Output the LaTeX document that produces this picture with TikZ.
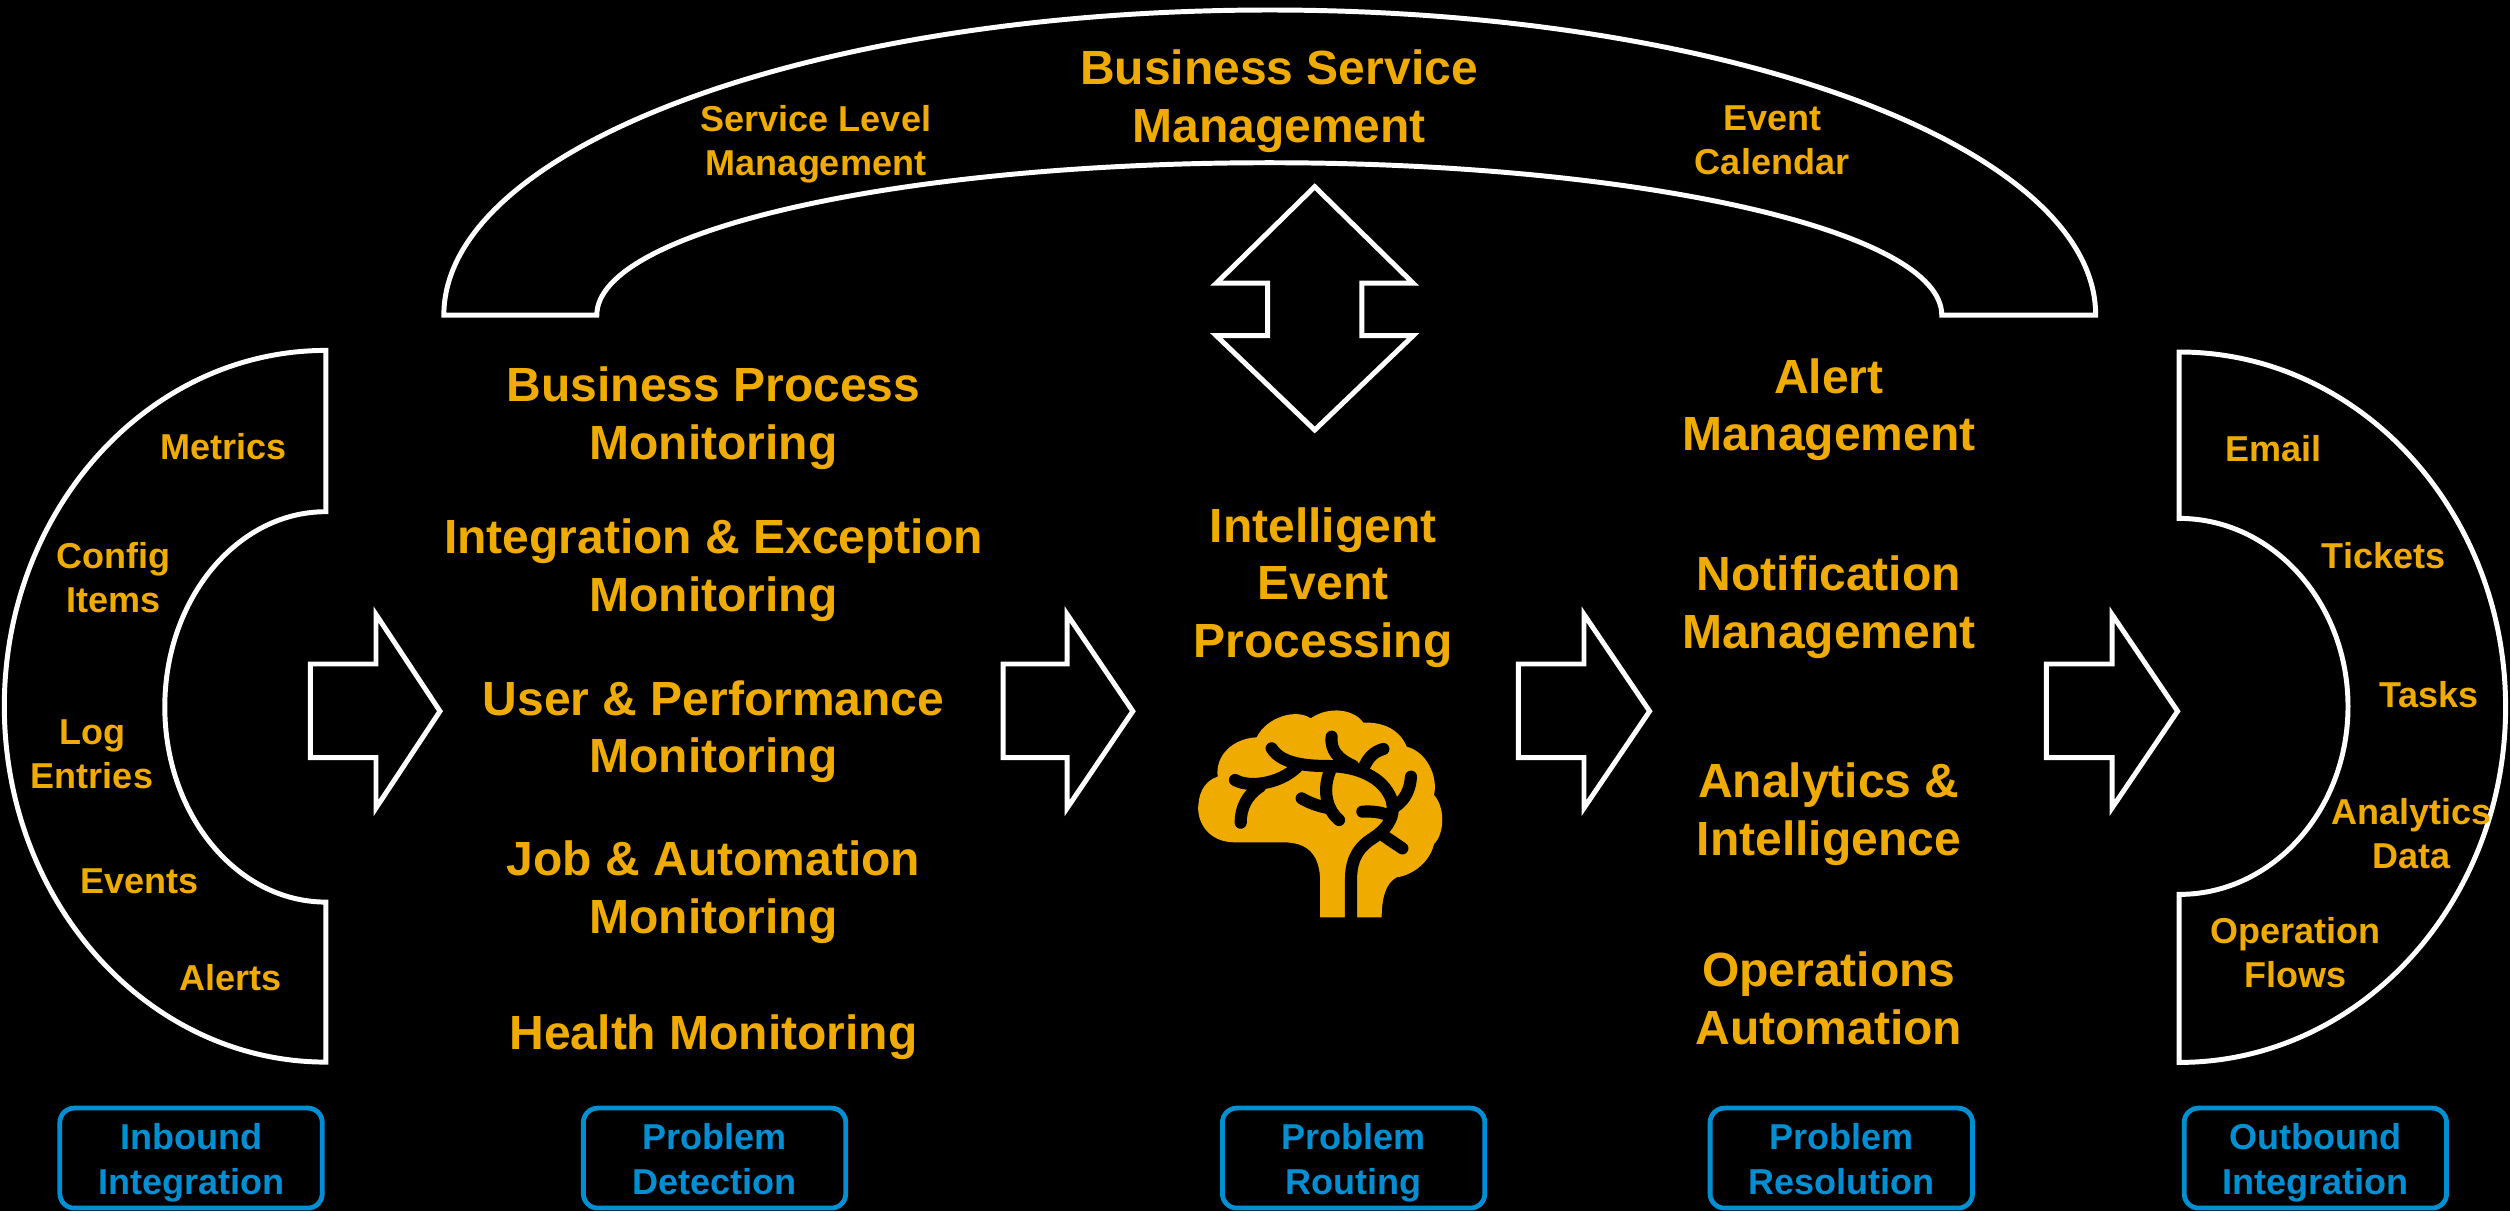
\documentclass[tikz,border=0pt]{standalone}
\usepackage{fontspec}
\setmainfont{Liberation Sans}
\definecolor{gold}{RGB}{240,171,0}
\definecolor{sapblue}{RGB}{0,143,211}
\begin{document}
\begin{tikzpicture}[x=1pt,y=1pt,
  shapeline/.style={draw=white,line width=3.1pt,line join=miter},
  big/.style={text=gold,font=\bfseries\fontsize{30}{36}\selectfont,align=center,inner sep=0pt,
    execute at begin node=\strut,execute at end node=\strut},
  small/.style={text=gold,font=\bfseries\fontsize{22.5}{27.5}\selectfont,align=center,inner sep=0pt,
    execute at begin node=\strut,execute at end node=\strut},
  bluebox/.style={draw=sapblue,line width=3pt,rounded corners=9pt,minimum width=164pt,minimum height=62.5pt,inner sep=0pt},
  bluetext/.style={text=sapblue,font=\bfseries\fontsize{22.5}{28}\selectfont,align=center,inner sep=0pt,
    execute at begin node=\strut,execute at end node=\strut},
  vein/.style={draw=black,line width=7.6pt,line cap=round,line join=round}
]
\fill[black] (0,0) rectangle (1568.75,-756.875);
\useasboundingbox (0,0) rectangle (1568.75,-756.875);

% top arch
\draw[shapeline] (277.4,-197) arc[start angle=180,end angle=0,x radius=516.2,y radius=190.75]
  -- (1213.6,-197) arc[start angle=0,end angle=180,x radius=420.3,y radius=95.3] -- cycle;
% left C
\draw[shapeline] (203.7,-219) arc[start angle=90,end angle=270,x radius=201,y radius=222.4]
  -- (203.7,-563.8) arc[start angle=270,end angle=90,x radius=100.7,y radius=122] -- cycle;
% right D
\draw[shapeline] (1362,-220) arc[start angle=90,end angle=-90,x radius=204,y radius=222]
  -- (1362,-559) arc[start angle=-90,end angle=90,x radius=105.5,y radius=117.5] -- cycle;

% block arrows
\draw[shapeline] (194,-415) -- (235,-415) -- (235,-384) -- (275,-444.5) -- (235,-505) -- (235,-473.5) -- (194,-473.5) -- cycle;
\draw[shapeline] (627,-415) -- (667,-415) -- (667,-384) -- (708,-444.5) -- (667,-505) -- (667,-473.5) -- (627,-473.5) -- cycle;
\draw[shapeline] (949,-415) -- (990,-415) -- (990,-384) -- (1031,-444.5) -- (990,-505) -- (990,-473.5) -- (949,-473.5) -- cycle;
\draw[shapeline] (1279,-415) -- (1320,-415) -- (1320,-384) -- (1361,-444.5) -- (1320,-505) -- (1320,-473.5) -- (1279,-473.5) -- cycle;
% double arrow
\draw[shapeline] (821.7,-116.7) -- (883.2,-177) -- (851.1,-177) -- (851.1,-209.8) -- (883.2,-209.8)
  -- (821.7,-268.75) -- (760.2,-209.8) -- (792.3,-209.8) -- (792.3,-177) -- (760.2,-177) -- cycle;

% brain icon
\begin{scope}[shift={(718.75,-425)},x=0.208333pt,y=0.208333pt]
\fill[gold] (510,-712) -- (510,-590) .. controls (505,-520) and (470,-487) .. (400,-487) -- (255,-487)
  .. controls (170,-487) and (140,-420) .. (145,-375)
  .. controls (148,-330) and (170,-300) .. (203,-290)
  .. controls (195,-225) and (250,-175) .. (320,-172)
  .. controls (350,-110) and (440,-85) .. (482,-115)
  .. controls (540,-75) and (615,-90) .. (640,-128)
  .. controls (700,-125) and (750,-150) .. (770,-200)
  .. controls (830,-215) and (865,-290) .. (852,-345)
  .. controls (885,-380) and (885,-460) .. (852,-492)
  .. controls (840,-545) and (790,-585) .. (740,-592)
  .. controls (705,-610) and (695,-660) .. (695,-712) -- cycle;
\draw[vein] (365,-205) .. controls (390,-245) and (450,-258) .. (530,-258)
  .. controls (620,-258) and (700,-290) .. (725,-360)
  .. controls (740,-420) and (700,-455) .. (660,-480)
  .. controls (610,-515) and (603,-560) .. (603,-600) -- (603,-712);
\draw[vein,line cap=butt] (603,-650) -- (603,-714);
\draw[vein] (255,-300) .. controls (300,-325) and (390,-310) .. (440,-262);
\draw[vein] (330,-320) .. controls (290,-345) and (272,-385) .. (272,-428);
\draw[vein] (545,-170) .. controls (540,-215) and (570,-240) .. (610,-258);
\draw[vein] (545,-262) .. controls (520,-310) and (520,-380) .. (567,-420);
\draw[vein] (455,-355) .. controls (480,-370) and (510,-380) .. (540,-385);
\draw[vein] (700,-207) .. controls (670,-215) and (655,-235) .. (645,-255);
\draw[vein] (783,-290) .. controls (780,-330) and (765,-360) .. (735,-380);
\draw[vein] (637,-395) .. controls (670,-393) and (700,-397) .. (722,-410);
\draw[vein] (705,-470) -- (757,-505);
\end{scope}

% top texts
\node[big] (bsm) at (799.4,-65.5) {Business Service\\Management};
\node[small] (slm) at (510,-91.7) {Service Level\\Management};
\node[small] (evc) at (1107.5,-91.7) {Event\\Calendar};

% left C labels
\node[small] (met) at (140,-281.7) {Metrics};
\node[small] (cfg) at (71,-365.2) {Config\\Items};
\node[small] (log) at (57.5,-475.2) {Log\\Entries};
\node[small] (evt) at (87,-552.7) {Events};
\node[small] (alr) at (144,-613.7) {Alerts};

% detection column
\node[big] (bpm) at (446,-263.5) {Business Process\\Monitoring};
\node[big] (iem) at (446,-358.4) {Integration \& Exception\\Monitoring};
\node[big] (upm) at (446,-459.4) {User \& Performance\\Monitoring};
\node[big] (jam) at (446,-560) {Job \& Automation\\Monitoring};
\node[big] (hm)  at (446,-649) {Health Monitoring};

% routing
\node[big] (iep) at (827,-369.4) {Intelligent\\Event\\Processing};

% resolution column
\node[big] (am) at (1143,-258.3) {Alert\\Management};
\node[big] (nm) at (1143,-381.8) {Notification\\Management};
\node[big] (ai) at (1143,-511) {Analytics \&\\Intelligence};
\node[big] (oa) at (1143,-629.3) {Operations\\Automation};

% right D labels
\node[small] (eml) at (1421,-283.2) {Email};
\node[small] (tck) at (1489.6,-349.7) {Tickets};
\node[small] (tsk) at (1518,-436.7) {Tasks};
\node[small] (ad)  at (1507,-525.2) {Analytics\\Data};
\node[small] (of)  at (1434.4,-599.7) {Operation\\Flows};

% bottom phase boxes
\node[bluebox] (b1) at (119.4,-723.8) {};
\node[bluebox] (b2) at (446.6,-723.8) {};
\node[bluebox] (b3) at (846,-723.8) {};
\node[bluebox] (b4) at (1150.8,-723.8) {};
\node[bluebox] (b5) at (1447.1,-723.8) {};
\node[bluetext] (t1) at ([yshift=-4.5pt]b1.center) {Inbound\\Integration};
\node[bluetext] (t2) at ([yshift=-4.5pt]b2.center) {Problem\\Detection};
\node[bluetext] (t3) at ([yshift=-4.5pt]b3.center) {Problem\\Routing};
\node[bluetext] (t4) at ([yshift=-4.5pt]b4.center) {Problem\\Resolution};
\node[bluetext] (t5) at ([yshift=-4.5pt]b5.center) {Outbound\\Integration};
\end{tikzpicture}
\end{document}
